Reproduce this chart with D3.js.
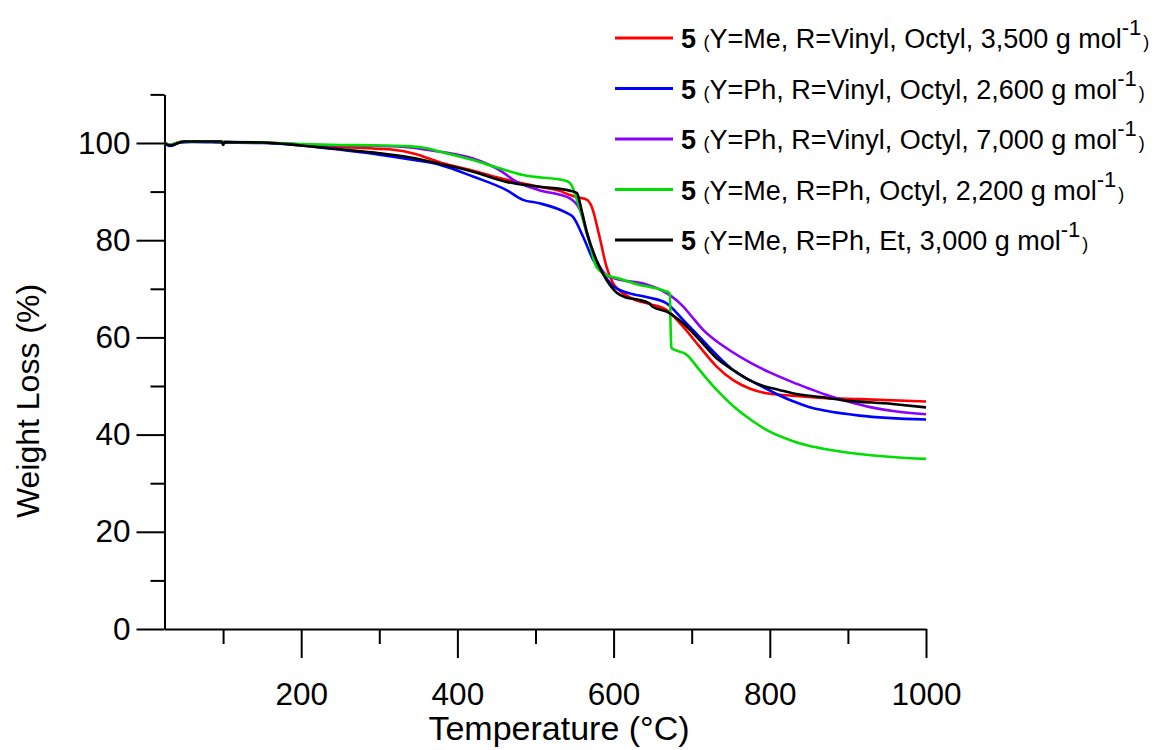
<!DOCTYPE html>
<html>
<head>
<meta charset="utf-8">
<script src="https://cdn.jsdelivr.net/npm/d3@7"></script>
<style>
  html, body { margin: 0; padding: 0; background: #ffffff; }
  svg { display: block; font-family: "Liberation Sans", Arial, sans-serif; }
</style>
</head>
<body>
<svg id="chart" width="1158" height="750"></svg>
<script>
// ---- Data (Temperature °C, Weight %) ----
const seriesRed = [[25,100],[32,99.6],[45,100.2],[60,100.3],[100,100.2],[150,100.1],[200,99.7],[250,99.2],[300,98.8],[318,98.6],[345,97.8],[378,96.0],[420,94.3],[454,92.8],[480,91.8],[505,91.0],[530,90.2],[544,89.3],[555,88.8],[566,88.3],[572,86.9],[582,80.7],[591,74.5],[599,71.2],[608,69.6],[625,67.9],[645,66.9],[668,65.6],[689,62.2],[710,58.1],[732,54.0],[753,51.2],[774,49.5],[796,48.5],[829,48.0],[872,47.5],[915,47.3],[1000,46.8]];
const seriesBlue = [[25,100],[32,99.4],[45,100.1],[60,100.2],[100,100.1],[150,100.0],[200,99.5],[250,98.6],[300,97.6],[340,96.6],[378,95.5],[420,93.1],[463,90.3],[484,88.3],[505,87.6],[540,85.6],[548,84.8],[561,80.7],[574,75.9],[586,73.2],[599,70.6],[610,69.6],[625,68.9],[645,68.2],[668,67.0],[689,63.6],[710,60.1],[732,56.4],[753,53.3],[774,51.2],[790,49.9],[812,48.1],[829,46.9],[850,45.7],[872,44.9],[915,43.9],[1000,43.1]];
const seriesPurple = [[25,100],[32,99.6],[45,100.2],[60,100.3],[100,100.2],[150,100.1],[200,99.7],[250,99.5],[300,99.4],[340,99.1],[361,98.6],[378,98.2],[420,96.8],[454,94.4],[476,92.0],[505,90.3],[544,88.6],[557,86.2],[567,80.7],[578,75.9],[591,72.8],[610,71.8],[640,71.0],[660,69.8],[672,68.7],[689,66.4],[700,64.3],[715,61.5],[732,59.2],[750,57.2],[775,54.8],[800,52.8],[829,50.8],[850,49.5],[872,48.2],[900,46.8],[930,45.6],[960,44.8],[1000,44.2]];
const seriesGreen = [[25,100],[32,99.6],[45,100.2],[60,100.3],[100,100.2],[150,100.1],[200,99.8],[250,99.6],[300,99.5],[340,99.3],[361,98.9],[378,98.2],[420,96.5],[454,94.8],[484,93.4],[540,92.2],[546,91.4],[553,88.3],[566,81.5],[578,74.5],[591,72.8],[605,72.2],[633,70.8],[646,70.4],[665,69.6],[672,69.1],[673,62.0],[674,57.8],[694,56.4],[710,53.3],[732,49.2],[753,45.9],[778,42.8],[800,40.6],[829,38.7],[850,37.7],[872,37.0],[915,36.0],[957,35.4],[1000,35.0]];
const seriesBlack = [[25,100],[32,99.5],[50,100.3],[98,100.3],[100,99.6],[102,100.2],[150,100.1],[200,99.5],[250,98.7],[300,97.9],[340,97.0],[378,95.7],[420,94.1],[463,92.0],[505,91.0],[544,90.2],[553,89.7],[559,86.2],[566,81.5],[578,75.9],[591,71.8],[604,69.2],[616,68.2],[630,67.8],[646,67.0],[650,66.3],[668,65.3],[689,62.9],[710,59.5],[732,55.7],[753,53.3],[774,51.2],[790,50.1],[812,49.2],[829,48.5],[872,47.6],[893,47.1],[957,46.3],[1000,45.6]];

const seriesNames = [
  "(Y=Me, R=Vinyl, Octyl, 3,500 g mol",
  "(Y=Ph, R=Vinyl, Octyl, 2,600 g mol",
  "(Y=Ph, R=Vinyl, Octyl, 7,000 g mol",
  "(Y=Me, R=Ph, Octyl, 2,200 g mol",
  "(Y=Me, R=Ph, Et, 3,000 g mol"
];
const seriesColors = ["#ff0000", "#0000ff", "#8a00ff", "#00dd00", "#000000"];
const seriesData = [seriesRed, seriesBlue, seriesPurple, seriesGreen, seriesBlack];

const xMajorTicks = [200, 400, 600, 800, 1000];
const xMinorTicks = [100, 300, 500, 700, 900];
const yMajorTicks = [0, 20, 40, 60, 80, 100];
const yMinorTicks = [10, 30, 50, 70, 90, 110];

// ---- Chart ----
const svg = d3.select("#chart");
const x = d3.scaleLinear().domain([25, 1000]).range([164.5, 926]);
const y = d3.scaleLinear().domain([0, 110]).range([629, 94.4]);

const fontTick = 31.5;

// X axis
const gx = svg.append("g").attr("transform", `translate(0,${y(0)})`);
gx.call(d3.axisBottom(x).tickValues(xMajorTicks).tickSize(29).tickSizeOuter(0).tickPadding(25).tickFormat(d3.format("d")));
const gxm = svg.append("g").attr("transform", `translate(0,${y(0)})`);
gxm.call(d3.axisBottom(x).tickValues(xMinorTicks).tickSize(15).tickSizeOuter(0).tickFormat(""));
gxm.select(".domain").remove();

// Y axis
const gy = svg.append("g").attr("transform", `translate(${x(25)},0)`);
gy.call(d3.axisLeft(y).tickValues(yMajorTicks).tickSize(28).tickSizeOuter(0).tickPadding(6).tickFormat(d3.format("d")));
const gym = svg.append("g").attr("transform", `translate(${x(25)},0)`);
gym.call(d3.axisLeft(y).tickValues(yMinorTicks).tickSize(14).tickSizeOuter(0).tickFormat(""));
gym.select(".domain").remove();

[gx, gxm, gy, gym].forEach(g => {
  g.selectAll("path,line").attr("stroke", "#000").attr("stroke-width", 2);
  g.selectAll("text").attr("font-size", fontTick).attr("fill", "#000")
    .attr("font-family", '"Liberation Sans", Arial, sans-serif');
});

// Axis titles
svg.append("text")
  .attr("x", 559).attr("y", 740)
  .attr("text-anchor", "middle")
  .attr("font-size", 34)
  .text("Temperature (\u00B0C)");

svg.append("text")
  .attr("transform", "translate(39,401) rotate(-90)")
  .attr("text-anchor", "middle")
  .attr("font-size", 32)
  .text("Weight Loss (%)");

// Lines
const line = d3.line()
  .x(d => x(d[0]))
  .y(d => y(d[1]))
  .curve(d3.curveMonotoneX);

const drawOrder = [0, 2, 1, 3, 4];
drawOrder.forEach(i => {
  svg.append("path")
    .datum(seriesData[i])
    .attr("fill", "none")
    .attr("stroke", seriesColors[i])
    .attr("stroke-width", 2.6)
    .attr("stroke-linejoin", "round")
    .attr("d", line);
});

// Legend
const legend = svg.append("g");
seriesNames.forEach((name, i) => {
  const ly = 38 + i * 50.5;
  legend.append("line")
    .attr("x1", 615).attr("x2", 673)
    .attr("y1", ly).attr("y2", ly)
    .attr("stroke", seriesColors[i]).attr("stroke-width", 2.8);
  const t = legend.append("text")
    .attr("x", 681).attr("y", ly + 10)
    .attr("font-size", 27).attr("fill", "#000");
  t.append("tspan").attr("font-weight", "bold").text("5");
  t.append("tspan").text(" ");
  t.append("tspan").attr("font-size", 18).text(name.slice(0, 1));
  t.append("tspan").text(name.slice(1));
  t.append("tspan").attr("font-size", 22).attr("dy", -13).text("-1");
  t.append("tspan").attr("font-size", 18).attr("dy", 13).attr("dx", 2).text(")");
});
</script>
</body>
</html>
